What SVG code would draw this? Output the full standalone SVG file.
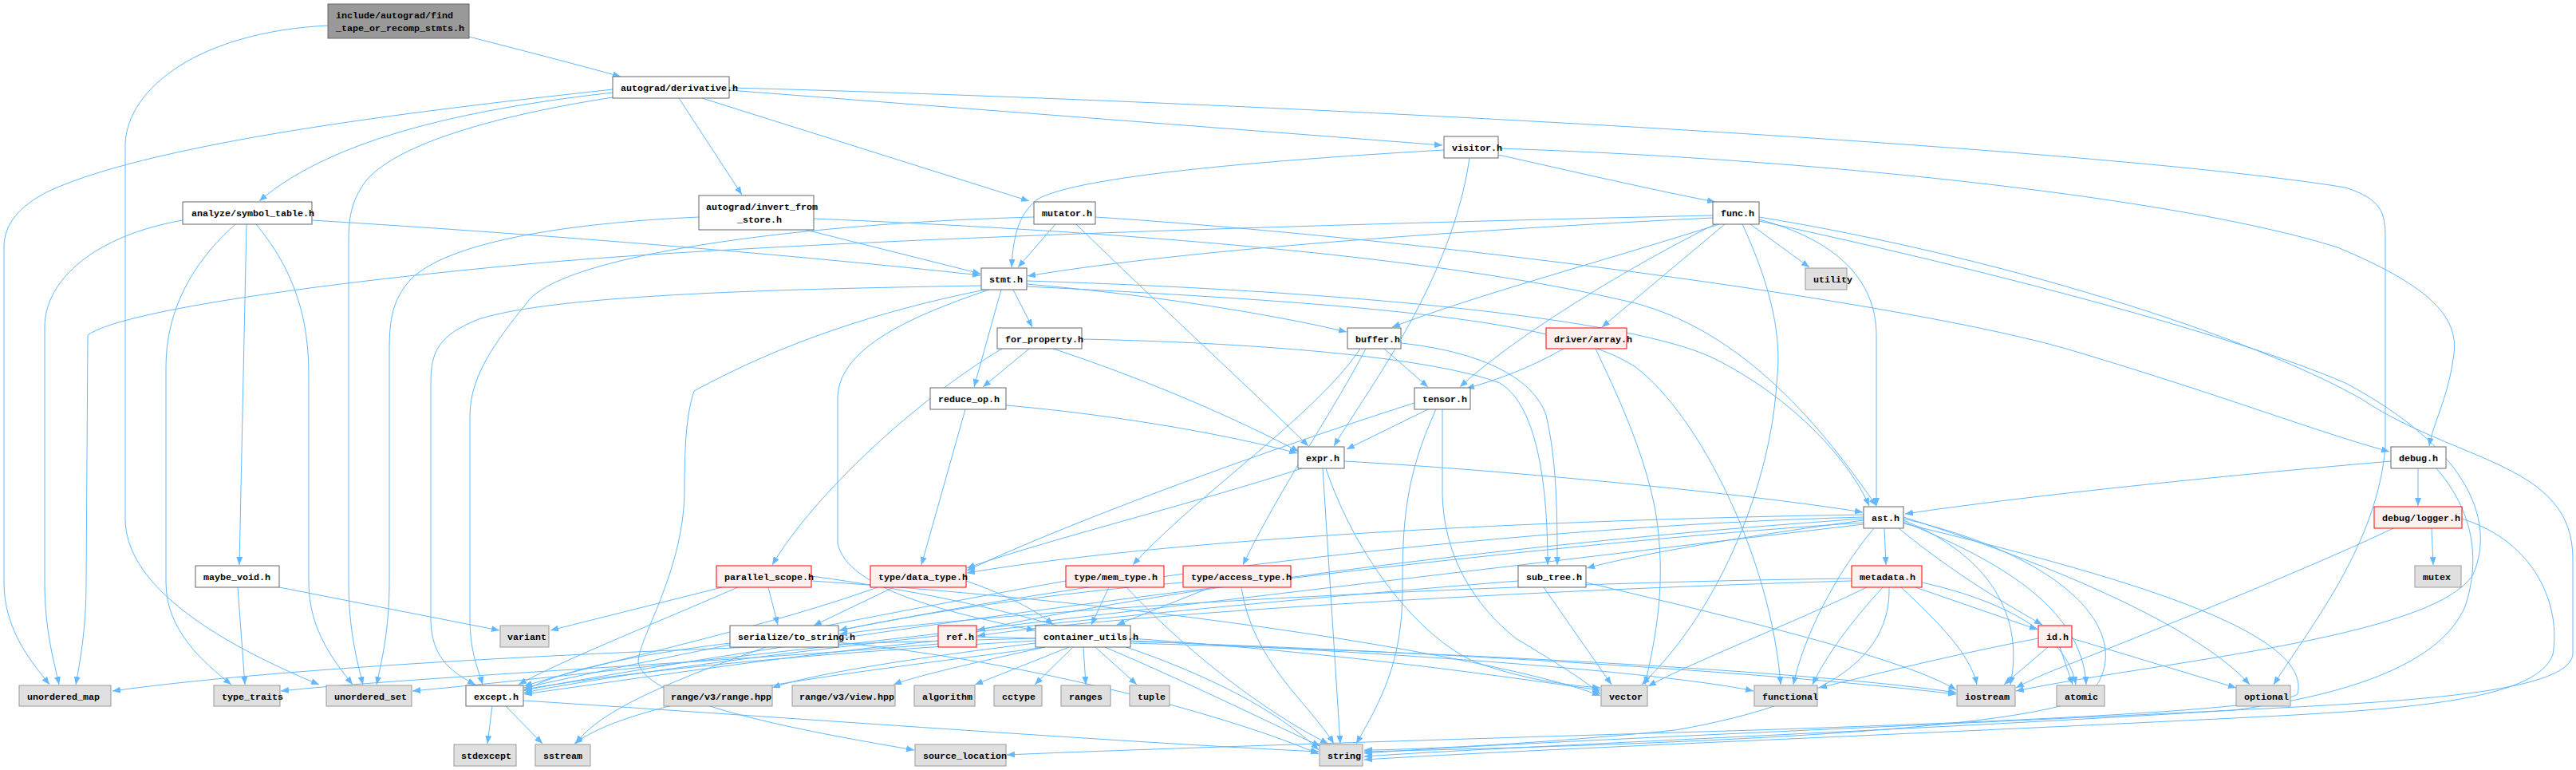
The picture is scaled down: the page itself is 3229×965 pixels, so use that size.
<svg xmlns="http://www.w3.org/2000/svg" width="3229" height="965" viewBox="0 0 3229 965">
<style>
.n rect{fill:#ffffff;stroke:#666666;stroke-width:1}
.g rect{fill:#e0e0e0;stroke:#999999;stroke-width:1}
.r rect{fill:#fff0f0;stroke:#ff0000;stroke-width:1}
.root rect{fill:#999999;stroke:#666666;stroke-width:1}
text{font-family:"Liberation Mono","DejaVu Sans Mono",monospace;font-size:11.67px;font-weight:bold;fill:#000000}
#edges path{fill:none;stroke:#63b8ff;stroke-width:1;marker-end:url(#a)}
</style>
<defs>
<marker id="a" markerUnits="userSpaceOnUse" markerWidth="10" markerHeight="8" refX="10" refY="4" orient="auto">
<path d="M0,0 L10,4 L0,8 z" fill="#63b8ff"/>
</marker>
</defs>
<rect width="3229" height="965" fill="#ffffff"/>
<g id="edges">
<path d="M588,46 C650,62 720,80 778,96"/>
<path d="M411,32 C250,40 160,110 157,180 L157,650 C157,730 260,800 400,858"/>
<path d="M768,112 C560,135 200,175 60,240 C25,258 5,280 5,310 L5,730 C5,790 40,830 62,858"/>
<path d="M768,116 C600,135 420,170 325,252"/>
<path d="M768,122 C620,145 500,180 460,225 C442,248 437,270 437,300 L437,730 C437,790 448,830 455,858"/>
<path d="M851,123 L930,244"/>
<path d="M880,123 L1290,252"/>
<path d="M914,113 L1808,182"/>
<path d="M914,110 C1500,125 2600,180 2940,235 C2985,250 2990,265 2990,300 L2990,560 C2980,680 2900,780 2850,858"/>
<path d="M229,276 C120,295 56,350 56,410 L56,730 C56,790 68,830 74,858"/>
<path d="M295,281 C240,330 208,390 208,460 L208,730 C208,790 255,830 290,858"/>
<path d="M309,281 L300,708"/>
<path d="M321,281 C370,340 387,400 387,470 L387,730 C387,790 420,830 442,858"/>
<path d="M391,276 C700,295 1000,320 1229,345"/>
<path d="M298,736 L307,858"/>
<path d="M350,736 L626,790"/>
<path d="M876,272 C700,280 560,305 515,350 C492,375 488,400 488,440 L488,730 C488,790 478,830 472,858"/>
<path d="M1010,288 L1229,343"/>
<path d="M1020,274 C1400,290 1800,320 2050,380 C2200,420 2300,560 2352,634"/>
<path d="M1323,281 L1276,335"/>
<path d="M1349,281 C1450,380 1560,480 1640,559"/>
<path d="M1296,272 C1000,280 700,320 660,380 C620,430 590,470 589,520 L589,780 C590,820 600,840 605,858"/>
<path d="M1373,272 C1800,300 2400,380 2600,440 C2800,500 2900,540 2995,566"/>
<path d="M1878,194 C1950,210 2080,240 2150,253"/>
<path d="M1810,188 C1600,200 1350,220 1300,250 C1275,270 1270,300 1268,335"/>
<path d="M1842,198 C1820,350 1720,480 1672,559"/>
<path d="M1878,186 C2300,200 2740,250 2930,310 C3050,360 3085,400 3075,450 C3068,500 3050,530 3045,559"/>
<path d="M2147,270 C1700,280 1000,300 660,331 C400,355 150,390 110,420 L108,730 C108,790 100,830 95,858"/>
<path d="M2147,273 C1900,285 1500,310 1288,346"/>
<path d="M2162,281 L2008,410"/>
<path d="M2155,281 C2000,330 1850,370 1745,410"/>
<path d="M2150,281 C2050,330 1900,420 1830,485"/>
<path d="M2194,281 L2268,335"/>
<path d="M2184,281 C2230,380 2232,440 2227,480 C2220,600 2160,760 2058,858"/>
<path d="M2205,275 C2300,300 2352,350 2352,420 L2352,634"/>
<path d="M2205,272 C2500,320 2820,420 2960,500 C3080,580 3225,580 3225,700 L3225,820 C3220,870 3000,880 2800,890 C2400,910 1900,930 1710,944"/>
<path d="M2205,277 C2500,340 2800,420 2940,480 C3090,560 3130,650 3100,720 C3050,800 2700,830 2527,866"/>
<path d="M1230,358 C1000,362 700,368 600,400 C550,420 540,440 540,480 L540,780 C542,820 560,840 596,858"/>
<path d="M1270,363 L1294,410"/>
<path d="M1255,363 L1221,485"/>
<path d="M1287,356 C1450,370 1600,395 1688,416"/>
<path d="M1287,352 C1700,365 2050,400 2150,450 C2250,500 2320,580 2343,634"/>
<path d="M1240,363 C1130,400 1050,440 1050,500 L1050,680 C1060,740 1200,770 1297,790"/>
<path d="M1287,359 C1700,380 1960,400 2050,460 C2130,520 2220,700 2232,858"/>
<path d="M1235,363 C1100,390 980,430 870,490 C860,520 858,560 858,620 C855,720 800,800 800,830 C810,880 1000,915 1146,940"/>
<path d="M1290,437 L1232,485"/>
<path d="M1320,437 C1450,480 1560,530 1628,566"/>
<path d="M1256,437 C1150,500 1020,620 968,708"/>
<path d="M1356,425 C1600,430 1800,450 1880,480 C1930,510 1940,620 1940,708"/>
<path d="M1735,437 L1790,485"/>
<path d="M1705,437 C1650,520 1500,620 1420,708"/>
<path d="M1712,437 C1680,500 1600,620 1558,708"/>
<path d="M1756,430 C1850,440 1920,470 1938,520 C1952,580 1952,650 1952,708"/>
<path d="M1960,437 C1920,460 1880,475 1838,487"/>
<path d="M2000,437 C2020,480 2060,560 2075,640 C2090,730 2075,800 2062,858"/>
<path d="M1210,513 L1155,708"/>
<path d="M1261,508 C1400,520 1540,545 1626,568"/>
<path d="M1790,513 L1688,563"/>
<path d="M1808,513 L1808,620 C1810,700 1850,760 1900,800 C1950,830 1990,855 2006,870"/>
<path d="M1800,513 C1760,600 1758,660 1758,740 C1758,830 1730,880 1700,932"/>
<path d="M1773,505 C1600,560 1350,650 1212,715"/>
<path d="M1685,578 C1900,590 2200,620 2335,642"/>
<path d="M1632,587 C1500,630 1300,680 1212,712"/>
<path d="M1658,587 L1680,932"/>
<path d="M1662,587 C1700,700 1780,800 1850,830 C1920,855 1980,860 2006,862"/>
<path d="M2997,578 C2800,595 2550,620 2388,644"/>
<path d="M3031,587 L3031,634"/>
<path d="M3054,587 C3100,640 3110,700 3090,760 C3060,830 2950,870 2800,890 C2400,915 1900,935 1710,948"/>
<path d="M3048,662 L3050,708"/>
<path d="M3000,662 C2900,710 2700,790 2600,830 C2560,845 2540,855 2527,862"/>
<path d="M3086,650 C3180,680 3210,760 3200,820 C3180,880 3000,890 2800,900 C2400,920 1900,940 1710,952"/>
<path d="M2336,652 C2200,670 2050,695 1989,712"/>
<path d="M2362,662 L2364,708"/>
<path d="M2380,662 C2450,720 2520,760 2560,783"/>
<path d="M2349,662 C2300,720 2260,800 2248,858"/>
<path d="M2386,650 C2600,700 2680,800 2620,870 C2550,920 2000,935 1710,942"/>
<path d="M2386,652 C2480,690 2540,760 2520,858"/>
<path d="M2386,654 C2500,700 2610,760 2615,858"/>
<path d="M2386,648 C2550,700 2750,780 2820,858"/>
<path d="M2386,656 C2650,720 2900,790 2880,870 C2850,890 2500,905 2200,915 C1700,930 1400,940 1262,946"/>
<path d="M2336,645 C2000,650 1500,670 1212,718"/>
<path d="M2336,648 C1900,660 1400,720 1052,790"/>
<path d="M2336,650 C1900,680 1450,740 1225,790"/>
<path d="M2336,655 C1800,690 1000,800 657,865"/>
<path d="M2336,657 C1800,720 900,830 517,866"/>
<path d="M2340,736 C2250,780 2120,830 2066,860"/>
<path d="M2360,736 C2320,780 2290,820 2272,858"/>
<path d="M2383,736 C2430,780 2470,820 2478,858"/>
<path d="M2401,736 L2554,789"/>
<path d="M2368,736 C2370,820 2300,880 2100,915 C1900,935 1750,940 1710,940"/>
<path d="M2321,725 C1900,730 1300,760 1052,795"/>
<path d="M2321,728 C1900,740 1400,770 1225,797"/>
<path d="M2409,730 C2500,750 2590,790 2602,858"/>
<path d="M2567,811 L2512,858"/>
<path d="M2582,811 L2598,858"/>
<path d="M2597,800 L2803,862"/>
<path d="M2555,800 C2450,820 2350,845 2280,862"/>
<path d="M1935,736 L2020,858"/>
<path d="M1988,730 C2200,780 2400,830 2452,865"/>
<path d="M1903,728 C1500,760 900,820 657,868"/>
<path d="M1120,736 L1020,784"/>
<path d="M1100,736 C950,790 750,830 657,860"/>
<path d="M1211,728 C1260,745 1300,765 1320,783"/>
<path d="M1390,736 L1368,783"/>
<path d="M1412,736 C1500,830 1600,900 1665,932"/>
<path d="M1336,728 C1100,770 800,830 657,862"/>
<path d="M1518,736 L1400,783"/>
<path d="M1556,736 C1570,830 1640,880 1672,932"/>
<path d="M1483,730 C1300,745 1150,770 1052,790"/>
<path d="M905,736 L690,790"/>
<path d="M963,736 L975,783"/>
<path d="M925,736 C800,790 700,830 650,858"/>
<path d="M1017,722 C1300,760 1550,840 1653,940"/>
<path d="M1017,728 C1500,760 1900,830 2006,872"/>
<path d="M915,806 C800,820 700,840 657,866"/>
<path d="M960,811 C850,850 750,890 722,932"/>
<path d="M1051,805 C1300,830 1550,900 1653,945"/>
<path d="M1176,803 C1000,820 800,850 657,870"/>
<path d="M1176,807 C900,830 500,850 352,866"/>
<path d="M1224,798 C1700,810 2200,840 2452,870"/>
<path d="M1340,811 L1222,858"/>
<path d="M1345,811 L1297,858"/>
<path d="M1358,811 L1361,858"/>
<path d="M1373,811 L1425,858"/>
<path d="M1298,806 C1100,830 1000,850 968,862"/>
<path d="M1310,811 C1200,835 1140,850 1120,858"/>
<path d="M1385,811 C1500,860 1600,910 1655,935"/>
<path d="M1417,800 C1700,820 1900,850 2006,865"/>
<path d="M1417,803 C1800,820 2100,845 2198,866"/>
<path d="M1417,806 C1900,820 2300,845 2452,868"/>
<path d="M1298,803 C1000,820 800,840 657,864"/>
<path d="M1298,800 C900,810 400,830 141,866"/>
<path d="M1310,811 C1100,840 800,870 720,932"/>
<path d="M617,885 L611,932"/>
<path d="M634,885 L680,932"/>
<path d="M656,878 C1000,900 1400,930 1653,942"/>
</g>
<g id="n_root" class="root"><rect x="411" y="5" width="177" height="43"/><text x="421" y="23">include/autograd/find</text><text x="421" y="39">_tape_or_recomp_stmts.h</text></g>
<g id="n_derivative" class="n"><rect x="768" y="96" width="146" height="27"/><text x="778" y="114">autograd/derivative.h</text></g>
<g id="n_visitor" class="n"><rect x="1810" y="171" width="68" height="27"/><text x="1820" y="189">visitor.h</text></g>
<g id="n_invert" class="n"><rect x="876" y="245" width="144" height="43"/><text x="885" y="263">autograd/invert_from</text><text x="924" y="279">_store.h</text></g>
<g id="n_symbol_table" class="n"><rect x="229" y="253" width="162" height="28"/><text x="240" y="271">analyze/symbol_table.h</text></g>
<g id="n_mutator" class="n"><rect x="1296" y="253" width="77" height="28"/><text x="1306" y="271">mutator.h</text></g>
<g id="n_func" class="n"><rect x="2147" y="253" width="58" height="28"/><text x="2157" y="271">func.h</text></g>
<g id="n_stmt" class="n"><rect x="1230" y="336" width="57" height="27"/><text x="1240" y="354">stmt.h</text></g>
<g id="n_utility" class="g"><rect x="2263" y="336" width="52" height="27"/><text x="2273" y="354">utility</text></g>
<g id="n_for_property" class="n"><rect x="1250" y="411" width="106" height="26"/><text x="1260" y="429">for_property.h</text></g>
<g id="n_buffer" class="n"><rect x="1689" y="411" width="67" height="26"/><text x="1699" y="429">buffer.h</text></g>
<g id="n_driver_array" class="r"><rect x="1938" y="411" width="101" height="26"/><text x="1948" y="429">driver/array.h</text></g>
<g id="n_reduce_op" class="n"><rect x="1166" y="486" width="95" height="27"/><text x="1176" y="504">reduce_op.h</text></g>
<g id="n_tensor" class="n"><rect x="1773" y="486" width="70" height="27"/><text x="1783" y="504">tensor.h</text></g>
<g id="n_expr" class="n"><rect x="1627" y="560" width="58" height="27"/><text x="1637" y="578">expr.h</text></g>
<g id="n_debug" class="n"><rect x="2997" y="560" width="69" height="27"/><text x="3007" y="578">debug.h</text></g>
<g id="n_ast" class="n"><rect x="2336" y="635" width="50" height="27"/><text x="2346" y="653">ast.h</text></g>
<g id="n_logger" class="r"><rect x="2976" y="635" width="110" height="27"/><text x="2986" y="653">debug/logger.h</text></g>
<g id="n_maybe_void" class="n"><rect x="245" y="709" width="105" height="27"/><text x="255" y="727">maybe_void.h</text></g>
<g id="n_parallel_scope" class="r"><rect x="898" y="709" width="119" height="27"/><text x="908" y="727">parallel_scope.h</text></g>
<g id="n_data_type" class="r"><rect x="1091" y="709" width="120" height="27"/><text x="1101" y="727">type/data_type.h</text></g>
<g id="n_mem_type" class="r"><rect x="1336" y="709" width="123" height="27"/><text x="1346" y="727">type/mem_type.h</text></g>
<g id="n_access_type" class="r"><rect x="1483" y="709" width="135" height="27"/><text x="1493" y="727">type/access_type.h</text></g>
<g id="n_sub_tree" class="n"><rect x="1903" y="709" width="85" height="27"/><text x="1913" y="727">sub_tree.h</text></g>
<g id="n_metadata" class="r"><rect x="2321" y="709" width="88" height="27"/><text x="2331" y="727">metadata.h</text></g>
<g id="n_mutex" class="g"><rect x="3027" y="709" width="58" height="27"/><text x="3037" y="727">mutex</text></g>
<g id="n_variant" class="g"><rect x="627" y="784" width="61" height="27"/><text x="636" y="802">variant</text></g>
<g id="n_to_string" class="n"><rect x="915" y="784" width="136" height="27"/><text x="925" y="802">serialize/to_string.h</text></g>
<g id="n_ref" class="r"><rect x="1176" y="784" width="48" height="27"/><text x="1186" y="802">ref.h</text></g>
<g id="n_container_utils" class="n"><rect x="1298" y="784" width="119" height="27"/><text x="1308" y="802">container_utils.h</text></g>
<g id="n_id" class="r"><rect x="2555" y="784" width="42" height="27"/><text x="2565" y="802">id.h</text></g>
<g id="n_unordered_map" class="g"><rect x="24" y="859" width="115" height="26"/><text x="34" y="877">unordered_map</text></g>
<g id="n_type_traits" class="g"><rect x="268" y="859" width="83" height="26"/><text x="278" y="877">type_traits</text></g>
<g id="n_unordered_set" class="g"><rect x="409" y="859" width="107" height="26"/><text x="419" y="877">unordered_set</text></g>
<g id="n_except" class="n"><rect x="584" y="859" width="72" height="26"/><text x="594" y="877">except.h</text></g>
<g id="n_range_hpp" class="g"><rect x="832" y="859" width="136" height="26"/><text x="841" y="877">range/v3/range.hpp</text></g>
<g id="n_view_hpp" class="g"><rect x="993" y="859" width="129" height="26"/><text x="1002" y="877">range/v3/view.hpp</text></g>
<g id="n_algorithm" class="g"><rect x="1146" y="859" width="76" height="26"/><text x="1156" y="877">algorithm</text></g>
<g id="n_cctype" class="g"><rect x="1246" y="859" width="60" height="26"/><text x="1256" y="877">cctype</text></g>
<g id="n_ranges" class="g"><rect x="1330" y="859" width="62" height="26"/><text x="1340" y="877">ranges</text></g>
<g id="n_tuple" class="g"><rect x="1416" y="859" width="50" height="26"/><text x="1426" y="877">tuple</text></g>
<g id="n_vector" class="g"><rect x="2007" y="859" width="58" height="26"/><text x="2017" y="877">vector</text></g>
<g id="n_functional" class="g"><rect x="2199" y="859" width="79" height="26"/><text x="2209" y="877">functional</text></g>
<g id="n_iostream" class="g"><rect x="2453" y="859" width="73" height="26"/><text x="2463" y="877">iostream</text></g>
<g id="n_atomic" class="g"><rect x="2578" y="859" width="60" height="26"/><text x="2588" y="877">atomic</text></g>
<g id="n_optional" class="g"><rect x="2803" y="859" width="68" height="26"/><text x="2813" y="877">optional</text></g>
<g id="n_stdexcept" class="g"><rect x="569" y="933" width="78" height="27"/><text x="578" y="951">stdexcept</text></g>
<g id="n_sstream" class="g"><rect x="671" y="933" width="69" height="27"/><text x="681" y="951">sstream</text></g>
<g id="n_source_location" class="g"><rect x="1147" y="933" width="114" height="27"/><text x="1157" y="951">source_location</text></g>
<g id="n_string" class="g"><rect x="1654" y="933" width="54" height="27"/><text x="1664" y="951">string</text></g>
</svg>
